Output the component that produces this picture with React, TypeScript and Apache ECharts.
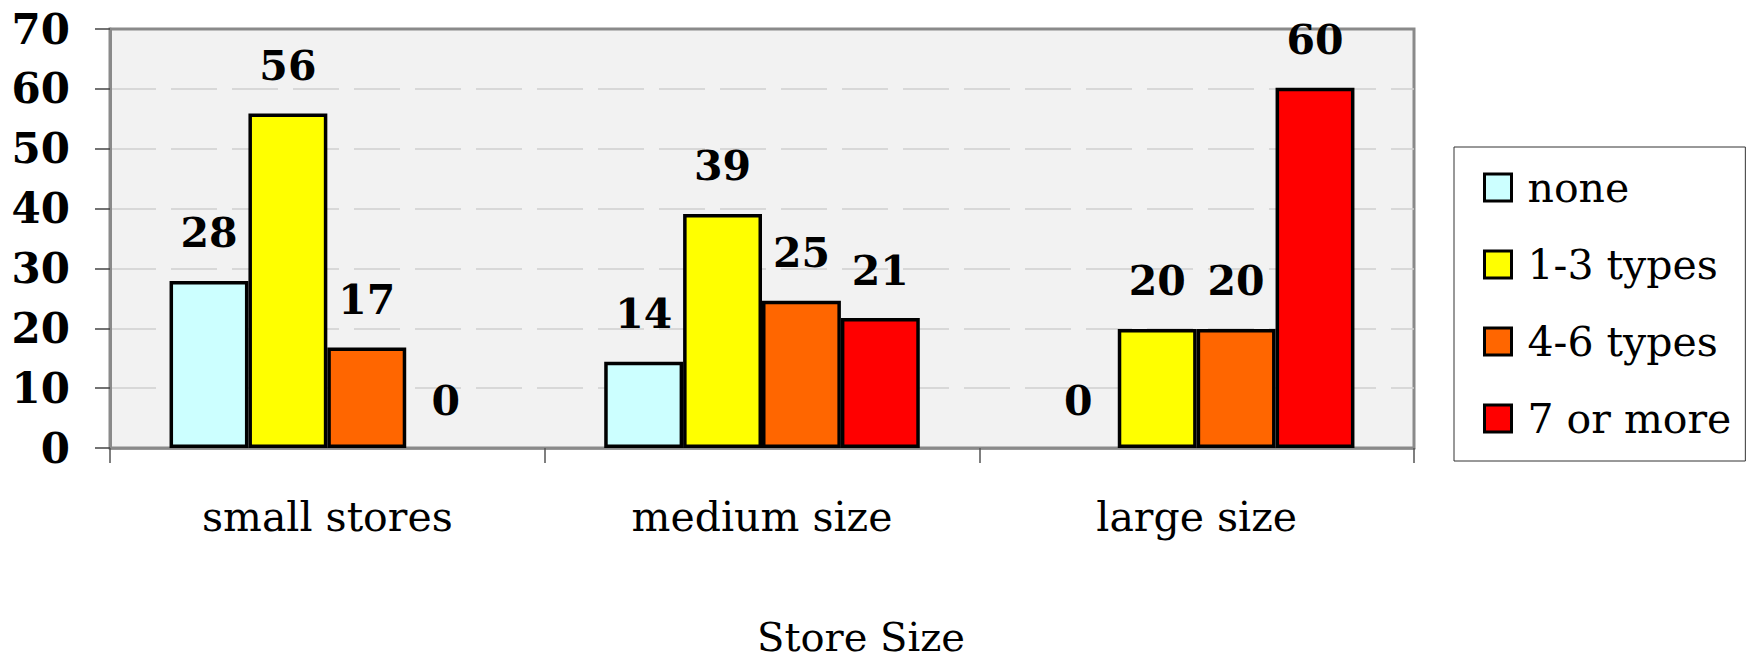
import React, { useEffect, useRef } from "react";
import * as echarts from "echarts";

const categories = ["small stores", "medium size", "large size"];
const seriesNames = ["none", "1-3 types", "4-6 types", "7 or more"];
const seriesColors = ["#ccffff", "#ffff00", "#ff6600", "#ff0000"];

const noneValues = [27.9, 14.4, 0];
const types13Values = [55.9, 39.1, 19.9];
const types46Values = [16.8, 24.6, 19.9];
const sevenPlusValues = [0, 21.7, 60.2];

const noneLabels = ["28", "14", "0"];
const types13Labels = ["56", "39", "20"];
const types46Labels = ["17", "25", "20"];
const sevenPlusLabels = ["0", "21", "60"];

const yTicks = [0, 10, 20, 30, 40, 50, 60, 70];
const xAxisTitle = "Store Size";

const FONT = "'DejaVu Serif', serif";

export default function App() {
  const ref = useRef<HTMLDivElement>(null);

  useEffect(() => {
    if (!ref.current) return;
    const chart = echarts.init(ref.current, null, { renderer: "svg" });
    const allValues = [noneValues, types13Values, types46Values, sevenPlusValues];
    const allLabels = [noneLabels, types13Labels, types46Labels, sevenPlusLabels];

    const series = seriesNames.map((name, i) => ({
      name,
      type: "bar",
      barGap: "0%",
      barCategoryGap: "27.4%",
      data: allValues[i].map((v) => ({
        value: v,
        itemStyle: v === 0 ? { borderWidth: 0 } : undefined,
      })),
      itemStyle: {
        color: seriesColors[i],
        borderColor: "#000000",
        borderWidth: 3.5,
      },
      label: {
        show: true,
        position: "top",
        distance: 27,
        fontFamily: FONT,
        fontWeight: "bold",
        fontSize: 41,
        color: "#000000",
        formatter: (p: any) => allLabels[i][p.dataIndex],
      },
    }));

    chart.setOption({
      animation: false,
      backgroundColor: "#ffffff",
      title: {
        text: xAxisTitle,
        left: 757,
        top: 617,
        padding: 0,
        textStyle: {
          fontFamily: FONT,
          fontWeight: "normal",
          fontSize: 40,
          color: "#000000",
        },
      },
      legend: {
        orient: "vertical",
        left: 1454,
        top: 147,
        padding: [20, 14, 22, 29],
        itemWidth: 27,
        itemHeight: 27,
        itemGap: 36,
        icon: "rect",
        backgroundColor: "#ffffff",
        borderColor: "#333333",
        borderWidth: 1,
        itemStyle: { borderColor: "#000000", borderWidth: 3 },
        textStyle: {
          fontFamily: FONT,
          fontSize: 41,
          color: "#000000",
          padding: [0, 0, 0, 11],
        },
        data: seriesNames,
      },
      grid: {
        left: 110,
        right: 336,
        top: 29,
        bottom: 216,
        show: true,
        backgroundColor: "#f2f2f2",
        borderColor: "#8a8a8a",
        borderWidth: 3,
        containLabel: false,
      },
      xAxis: {
        type: "category",
        data: categories,
        boundaryGap: true,
        axisLine: { show: true, lineStyle: { color: "#8a8a8a", width: 2.5 } },
        axisTick: {
          show: true,
          alignWithLabel: false,
          length: 15,
          lineStyle: { color: "#555555", width: 1.5 },
        },
        axisLabel: {
          margin: 48,
          fontFamily: FONT,
          fontSize: 41,
          color: "#000000",
        },
      },
      yAxis: {
        type: "value",
        min: 0,
        max: 70,
        interval: 10,
        axisLine: { show: true, lineStyle: { color: "#8a8a8a", width: 3 } },
        axisTick: {
          show: true,
          length: 15,
          lineStyle: { color: "#444444", width: 1.5 },
        },
        axisLabel: {
          margin: 40,
          fontFamily: FONT,
          fontWeight: "bold",
          fontSize: 42,
          color: "#000000",
          formatter: (v: number) => (yTicks.includes(v) ? String(v) : ""),
        },
        splitLine: {
          show: true,
          showMinLine: false,
          showMaxLine: false,
          lineStyle: { color: "#d0d0d0", width: 1.5, type: [46, 15] },
        },
      },
      series,
    });

    return () => chart.dispose();
  }, []);

  return (
    <div
      ref={ref}
      style={{ position: "fixed", left: 0, top: 0, width: 1750, height: 664 }}
    />
  );
}
